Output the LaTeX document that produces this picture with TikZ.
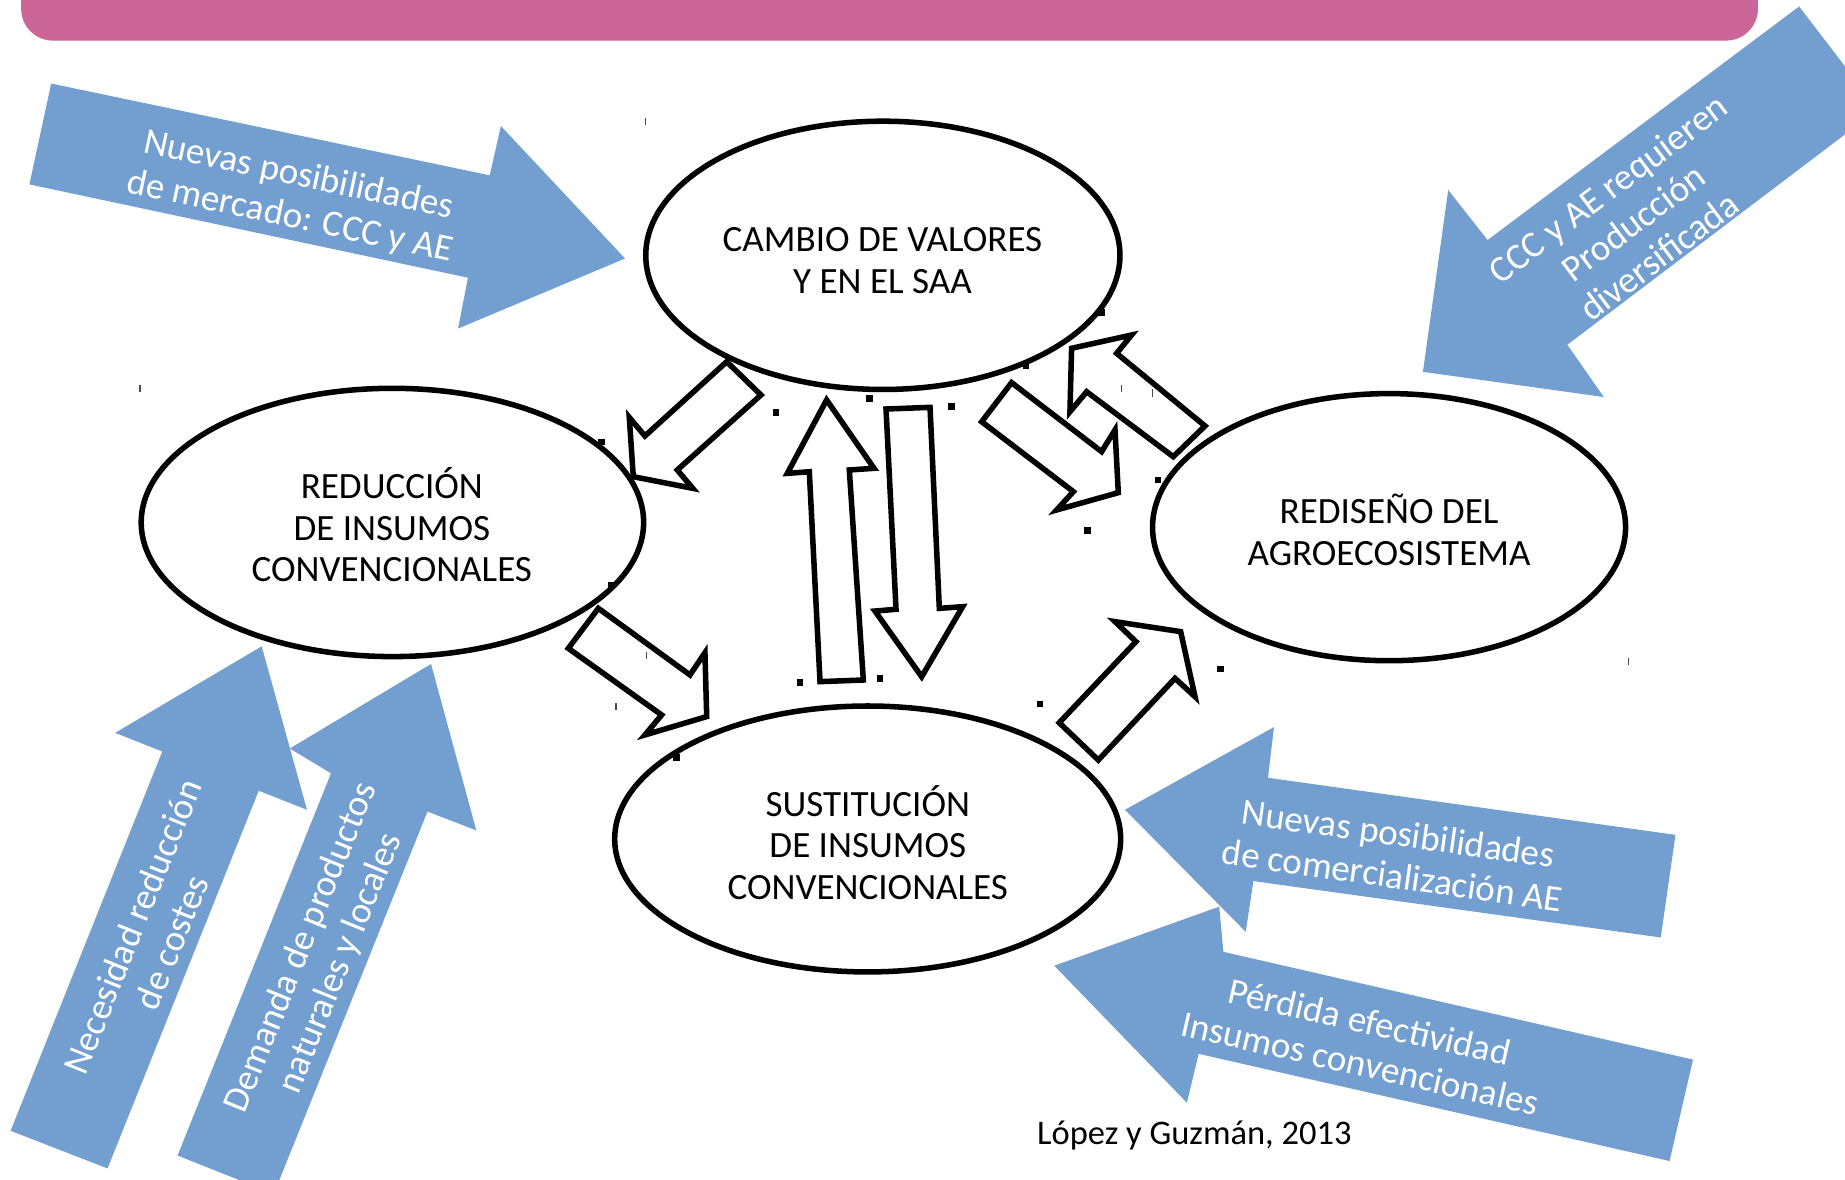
\documentclass[tikz,border=0pt]{standalone}
\usepackage{fontspec}
\setmainfont{Carlito}
\usetikzlibrary{shapes.geometric}
\definecolor{pinkbar}{RGB}{204,102,153}
\definecolor{bluearr}{RGB}{114,159,207}
\begin{document}
\begin{tikzpicture}[x=1pt,y=-1pt,
  ell/.style={ellipse,draw=black,line width=4.7pt,fill=white,inner sep=0pt},
  etxt/.style={font=\fontsize{31.5}{35.5}\selectfont,align=center,inner sep=0pt},
  btxt/.style={text=white,font=\fontsize{31.5}{36}\selectfont,align=center,inner sep=0pt},
  barrow/.style={fill=bluearr,draw=none},
  karrow/.style={draw=black,fill=white,line width=4.7pt,line join=miter},
  sqdot/.style={fill=black,draw=none},
  tickmark/.style={draw=black!70,line width=1.2pt}]
\clip (0,0) rectangle (1568,1002);
\fill[white] (0,0) rectangle (1568,1002);
% top bar
\fill[pinkbar,rounded corners=27pt] (18,-60) rectangle (1494,34.5);

% blue arrows
\fill[barrow] (43.5,71) -- (416.2,149) -- (425.7,107.1) -- (531.2,219.7) -- (389.3,279.2) -- (397.7,236) -- (25,156.7) -- cycle;
\fill[barrow] (1529,5.5) -- (1596,93) -- (1332,293) -- (1363,337.4) -- (1209.3,316) -- (1230.8,161.5) -- (1264.2,204) -- cycle;
\fill[barrow] (222.4,549.3) -- (260.9,688.2) -- (219.9,672) -- (91.4,993) -- (9,961) -- (137.9,638.7) -- (97.9,622.8) -- cycle;
\fill[barrow] (366.3,564.3) -- (404.8,705.7) -- (363.3,689.7) -- (232.7,1014.6) -- (150.9,982) -- (281.3,657.2) -- (246.3,636.1) -- cycle;
\fill[barrow] (956.1,688.2) -- (1082.7,617.9) -- (1077.6,661) -- (1423.9,709.5) -- (1411.4,796.7) -- (1065.2,748.8) -- (1058.7,791.9) -- cycle;
\fill[barrow] (896,820.7) -- (1036.2,770.5) -- (1039.7,808.9) -- (1438.8,900.5) -- (1418.9,986.7) -- (1018.7,895.6) -- (1008.7,937.2) -- cycle;

% ellipses
\node[ell,minimum width=403pt,minimum height=228pt] (cambio) at (750.3,217) {};
\node[ell,minimum width=427pt,minimum height=228pt] (reduccion) at (333.5,444) {};
\node[ell,minimum width=402pt,minimum height=227pt] (rediseno) at (1180.5,448) {};
\node[ell,minimum width=430pt,minimum height=226pt] (sustitucion) at (737.4,713) {};

% ellipse texts
\node[etxt] (cambiot) at (750,221.5) {CAMBIO DE VALORES\\Y EN EL SAA};
\node[etxt] (reducciont) at (333,446) {REDUCCIÓN\\DE INSUMOS\\CONVENCIONALES};
\node[etxt] (redisenot) at (1180.5,450.5) {REDISEÑO DEL\\AGROECOSISTEMA};
\node[etxt] (sustituciont) at (737.5,716) {SUSTITUCIÓN\\DE INSUMOS\\CONVENCIONALES};

% black block arrows
\draw[karrow] (617.6,307.4) -- (646.7,335.7) -- (575.6,399.4) -- (588.7,415) -- (538.2,405.1) -- (534.8,354.7) -- (548.1,370.5) -- cycle;
\draw[karrow] (702.5,339.9) -- (742.8,398) -- (721.8,399.4) -- (733.7,577.9) -- (696.9,579.3) -- (687.8,400.9) -- (669.1,402.3) -- cycle;
\draw[karrow] (753,347.6) -- (790.4,346.2) -- (798.3,517) -- (818.1,515.6) -- (783.3,575.1) -- (743.6,519.3) -- (761.5,517.8) -- cycle;
\draw[karrow] (997.1,388.1) -- (1024.1,362) -- (949,300.3) -- (961.7,284.7) -- (910.7,296) -- (909.3,349.9) -- (923.5,332.9) -- cycle;
\draw[karrow] (859.7,325.2) -- (834.3,358.4) -- (912.2,417.8) -- (898,433.4) -- (950.4,418.7) -- (947.6,365.4) -- (936.2,383.8) -- cycle;
\draw[karrow] (508.5,517) -- (483,551) -- (562.3,607.6) -- (548.1,624.6) -- (600.6,609) -- (599.1,554.7) -- (586.4,573.6) -- cycle;
\draw[karrow] (933.4,645.9) -- (900.2,614.2) -- (965.4,545.3) -- (947.6,528.3) -- (1003.4,536.8) -- (1015.6,592.1) -- (998.6,576.5) -- cycle;

% texts in blue arrows
\node[btxt,rotate=-12] (t1) at (250,167) {Nuevas posibilidades\\de mercado: CCC y AE};
\node[btxt,rotate=37] (t2) at (1388,189) {CCC y AE requieren\\Producción\\diversificada};
\node[btxt,rotate=68] (t3) at (129,794) {Necesidad reducción\\de costes};
\node[btxt,rotate=68] (t4) at (273,812) {Demanda de productos\\naturales y locales};
\node[btxt,rotate=-8] (t5) at (1186,726) {Nuevas posibilidades\\de comercialización AE};
\node[btxt,rotate=-12.8] (t6) at (1160,886) {Pérdida efectividad\\Insumos convencionales};

% citation
\node[font=\fontsize{29.3}{34}\selectfont,anchor=base,inner sep=0pt] (cita) at (1015,972.3) {López y Guzmán, 2013};

% small marks
\foreach \px/\py in {659.4/350.8, 738.7/338.5, 808.7/345.5, 924.3/451, 679.9/580.2, 747.9/576.5, 883.8/598.3, 1037.4/568.5, 575/644, 936/265.4, 872/311, 984/408, 511/375.5, 519.8/497.2}
  \fill[sqdot] (\px-2.8,\py-2.8) rectangle (\px+2.8,\py+2.8);
\foreach \px/\py in {548.7/103, 119/330, 549.5/557, 523.5/600.5, 1384/562, 953.3/330, 979.4/334}
  \draw[tickmark] (\px,\py-3) -- (\px,\py+3);
\end{tikzpicture}
\end{document}
